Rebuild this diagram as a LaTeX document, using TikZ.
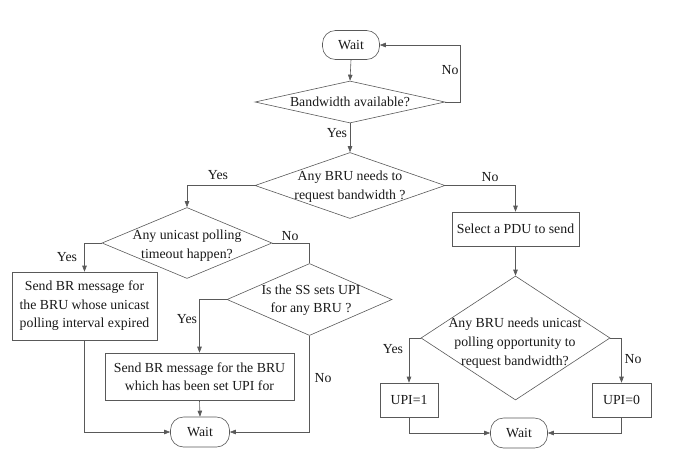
\documentclass[tikz,border=0pt]{standalone}
\usepackage{fontspec}
\setmainfont{Liberation Serif}
\newfontfamily\tnr{Liberation Serif}
\usetikzlibrary{arrows.meta,shapes.geometric}
\begin{document}
\begin{tikzpicture}[x=1pt,y=-1pt,
  every node/.style={font=\tnr\fontsize{13.8}{18.5}\selectfont, text=black!90},
  ln/.style={draw=black!65, line width=0.6pt},
  arr/.style={ln, -{Triangle[length=6pt,width=4.5pt]}},
  waitbox/.style={ln, rectangle, rounded corners=13pt, minimum width=57pt, minimum height=29pt, inner sep=0pt},
  procbox/.style={ln, rectangle, align=center, inner sep=0pt},
  decision/.style={ln, diamond, inner sep=0pt},
  dtext/.style={align=center, inner sep=0pt},
  lbl/.style={inner sep=0pt}
]
\useasboundingbox (0,0) rectangle (685,469);

% top
\node[waitbox] (w1) at (351,45) {Wait};
\node[decision, minimum width=190pt, minimum height=42pt] (d1) at (350,102) {};
\node[dtext] (d1t) at (350,102) {Bandwidth available?};
\node[decision, minimum width=190pt, minimum height=66pt] (d2) at (350,185.5) {};
\node[dtext] (d2t) at (350,186.5) {Any BRU needs to\\request bandwidth ?};

% left branch
\node[decision, minimum width=170pt, minimum height=71pt] (d3) at (187,243) {};
\node[dtext, font=\tnr\fontsize{13.8}{19}\selectfont] (d3t) at (187,245.5) {Any unicast polling\\timeout happen?};
\node[procbox, minimum width=145pt, minimum height=68pt] (b1) at (84.5,306) {Send BR message for\\the BRU whose unicast\\polling interval expired};
\node[decision, minimum width=165pt, minimum height=72pt] (d4) at (309.5,299.5) {};
\node[dtext] (d4t) at (311,300) {Is the SS sets UPI\\for any BRU ?};
\node[procbox, minimum width=189pt, minimum height=47pt] (b2) at (199.5,376.5) {Send BR message for the BRU\\which has been set UPI for};
\node[waitbox, minimum width=59pt, minimum height=30pt] (w2) at (200,432) {Wait};

% right branch
\node[procbox, minimum width=127pt, minimum height=34pt] (b3) at (515.5,229) {Select a PDU to send};
\node[decision, minimum width=189pt, minimum height=124pt] (d5) at (515.5,338) {};
\node[dtext, font=\tnr\fontsize{13.8}{19}\selectfont] (d5t) at (515,343.5) {Any BRU needs unicast\\polling opportunity to\\request bandwidth?};
\node[procbox, minimum width=58pt, minimum height=34pt] (u1) at (409,400) {UPI=1};
\node[procbox, minimum width=59pt, minimum height=34pt] (u0) at (621.5,400) {UPI=0};
\node[waitbox, minimum width=57pt, minimum height=30pt] (w3) at (519,433) {Wait};

% connectors
\draw[arr] (w1.south) -- (d1.north);
\draw[arr] (d1.east) -- ++(15,0) |- (w1.east);
\draw[arr] (d1.south) -- (d2.north);
\draw[arr] (d2.west) -| (d3.north);
\draw[arr] (d2.east) -| (b3.north);
\draw[arr] (d3.west) -| (b1.north);
\draw[ln] (d3.east) -| (d4.north);
\draw[arr] (d4.west) -| (b2.north);
\draw[arr] (d4.south) |- (w2.east);
\draw[arr] (b2.south) -- (w2.north);
\draw[arr] (b1.south) |- (w2.west);
\draw[arr] (b3.south) -- (d5.north);
\draw[arr] (d5.west) -| (u1.north);
\draw[arr] (d5.east) -| (u0.north);
\draw[arr] (u1.south) |- (w3.west);
\draw[arr] (u0.south) |- (w3.east);

% labels
\node[lbl] (l1) at (450,70) {No};
\node[lbl] (l2) at (337,133) {Yes};
\node[lbl] (l3) at (218,175) {Yes};
\node[lbl] (l4) at (490,177) {No};
\node[lbl] (l5) at (290,236) {No};
\node[lbl] (l6) at (67,257) {Yes};
\node[lbl] (l7) at (187,319) {Yes};
\node[lbl] (l8) at (323,378) {No};
\node[lbl] (l9) at (393,349) {Yes};
\node[lbl] (l10) at (633,359) {No};
\end{tikzpicture}
\end{document}
